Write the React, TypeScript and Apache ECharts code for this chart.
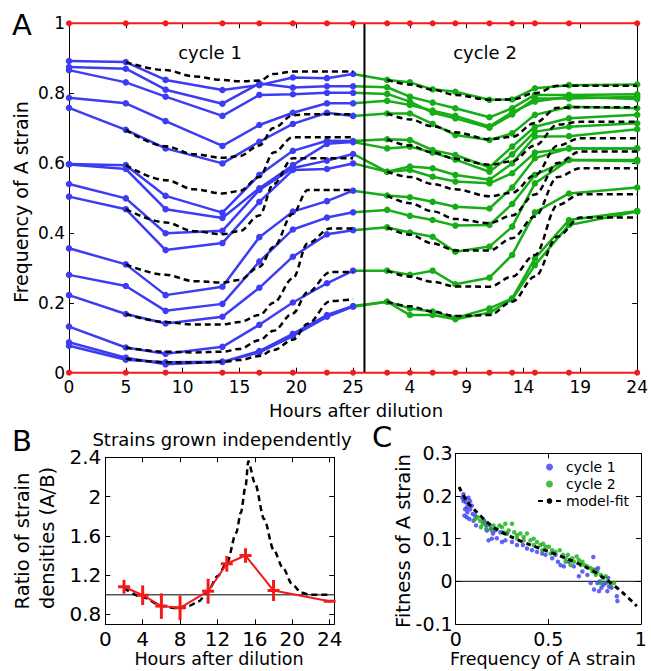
import React, { useEffect, useRef } from "react";
import * as echarts from "echarts";

const FONT = "DejaVu Sans";
const BLUE = "#3c3cf2";
const GREEN = "#16ad16";
const RED = "#f21a1a";
const BLACK = "#000000";

// ---------- Panel A ----------
const aTickLabels = ["0", "5", "10", "15", "20", "25", "4", "9", "14", "19", "24"];
const cycleBoundary = 26;
const cycle1Hours = [0, 5, 8.5, 13.5, 16.75, 19.7, 22.7, 25];
const cycle2Hours = [25, 28, 30, 32, 34, 37, 39, 41, 44, 50];
const controlHours = [0, 5, 8.5, 13.5, 16.75, 19.7, 22.7, 25, 28, 30, 32, 34, 37, 39, 41, 44, 50];
const pureAFreq = [1, 1, 1, 1, 1, 1, 1, 1, 1, 1, 1, 1, 1, 1, 1, 1, 1];
const pureBFreq = [0, 0, 0, 0, 0, 0, 0, 0, 0, 0, 0, 0, 0, 0, 0, 0, 0];

const cycle1Freq = [
  [0.892, 0.889, 0.838, 0.809, 0.823, 0.845, 0.843, 0.855],
  [0.875, 0.870, 0.810, 0.770, 0.828, 0.816, 0.820, 0.820],
  [0.866, 0.831, 0.790, 0.735, 0.795, 0.797, 0.801, 0.801],
  [0.787, 0.771, 0.720, 0.649, 0.709, 0.744, 0.771, 0.771],
  [0.758, 0.695, 0.642, 0.599, 0.661, 0.712, 0.744, 0.735],
  [0.597, 0.594, 0.506, 0.458, 0.566, 0.635, 0.664, 0.663],
  [0.596, 0.583, 0.468, 0.443, 0.528, 0.594, 0.655, 0.660],
  [0.540, 0.499, 0.399, 0.406, 0.523, 0.586, 0.607, 0.626],
  [0.504, 0.468, 0.351, 0.371, 0.489, 0.580, 0.583, 0.599],
  [0.356, 0.310, 0.222, 0.246, 0.388, 0.461, 0.491, 0.521],
  [0.280, 0.248, 0.177, 0.197, 0.318, 0.410, 0.444, 0.459],
  [0.222, 0.168, 0.141, 0.160, 0.243, 0.332, 0.396, 0.408],
  [0.132, 0.072, 0.054, 0.074, 0.137, 0.201, 0.256, 0.292],
  [0.087, 0.043, 0.024, 0.031, 0.062, 0.111, 0.165, 0.191],
  [0.077, 0.037, 0.030, 0.031, 0.058, 0.105, 0.160, 0.189],
];

const cycle2Freq = [
  [0.855, 0.838, 0.831, 0.811, 0.804, 0.781, 0.782, 0.814, 0.823, 0.825],
  [0.820, 0.817, 0.790, 0.773, 0.757, 0.731, 0.757, 0.795, 0.795, 0.797],
  [0.801, 0.798, 0.776, 0.744, 0.728, 0.701, 0.739, 0.785, 0.785, 0.790],
  [0.771, 0.778, 0.766, 0.750, 0.735, 0.705, 0.745, 0.776, 0.790, 0.783],
  [0.735, 0.742, 0.742, 0.712, 0.680, 0.666, 0.685, 0.738, 0.761, 0.757],
  [0.663, 0.668, 0.666, 0.637, 0.623, 0.588, 0.647, 0.704, 0.728, 0.738],
  [0.660, 0.642, 0.647, 0.630, 0.610, 0.575, 0.625, 0.690, 0.704, 0.714],
  [0.626, 0.575, 0.590, 0.585, 0.566, 0.552, 0.599, 0.676, 0.677, 0.697],
  [0.599, 0.575, 0.580, 0.561, 0.547, 0.542, 0.571, 0.630, 0.642, 0.642],
  [0.521, 0.507, 0.502, 0.489, 0.475, 0.470, 0.530, 0.614, 0.642, 0.642],
  [0.459, 0.466, 0.449, 0.437, 0.421, 0.423, 0.483, 0.566, 0.609, 0.609],
  [0.408, 0.416, 0.401, 0.389, 0.346, 0.361, 0.418, 0.542, 0.609, 0.605],
  [0.292, 0.292, 0.280, 0.292, 0.253, 0.272, 0.337, 0.459, 0.513, 0.530],
  [0.191, 0.203, 0.184, 0.175, 0.157, 0.184, 0.213, 0.327, 0.437, 0.463],
  [0.189, 0.203, 0.165, 0.165, 0.153, 0.172, 0.210, 0.308, 0.423, 0.461],
];

const model1Hours = [5, 8.5, 11, 13.5, 15, 16.75, 18, 19.7, 21, 23, 25];
const model1Freq = [
  [0.889, 0.866, 0.848, 0.838, 0.834, 0.836, 0.855, 0.862, 0.862, 0.862, 0.862],
  [0.695, 0.648, 0.625, 0.615, 0.620, 0.650, 0.700, 0.737, 0.740, 0.740, 0.740],
  [0.594, 0.551, 0.525, 0.513, 0.520, 0.560, 0.630, 0.674, 0.674, 0.674, 0.674],
  [0.468, 0.430, 0.405, 0.396, 0.405, 0.450, 0.540, 0.614, 0.614, 0.614, 0.614],
  [0.310, 0.280, 0.262, 0.258, 0.265, 0.303, 0.360, 0.455, 0.523, 0.523, 0.523],
  [0.168, 0.145, 0.138, 0.138, 0.145, 0.165, 0.200, 0.270, 0.370, 0.413, 0.413],
  [0.072, 0.060, 0.058, 0.060, 0.068, 0.093, 0.120, 0.170, 0.230, 0.288, 0.288],
  [0.040, 0.030, 0.029, 0.031, 0.036, 0.048, 0.065, 0.094, 0.140, 0.205, 0.210],
];

const model2Hours = [28, 30, 32, 34, 37, 39, 41, 43, 45, 50];
const model2Freq = [
  [0.838, 0.825, 0.810, 0.795, 0.781, 0.782, 0.800, 0.821, 0.821, 0.821],
  [0.742, 0.725, 0.705, 0.688, 0.668, 0.675, 0.715, 0.758, 0.760, 0.760],
  [0.668, 0.650, 0.630, 0.612, 0.595, 0.605, 0.650, 0.710, 0.718, 0.718],
  [0.575, 0.560, 0.540, 0.525, 0.505, 0.515, 0.565, 0.650, 0.671, 0.671],
  [0.507, 0.485, 0.462, 0.440, 0.428, 0.450, 0.510, 0.600, 0.633, 0.633],
  [0.416, 0.395, 0.370, 0.350, 0.350, 0.385, 0.447, 0.560, 0.585, 0.585],
  [0.292, 0.275, 0.260, 0.247, 0.246, 0.275, 0.337, 0.480, 0.511, 0.511],
  [0.203, 0.190, 0.175, 0.162, 0.165, 0.203, 0.275, 0.390, 0.444, 0.444],
];

// ---------- Panel B ----------
const bHours = [2, 4, 6, 8, 11, 13, 15, 18, 24];
const bRatio = [1.082, 0.996, 0.885, 0.868, 1.037, 1.316, 1.4, 1.044, 0.935];
const bError = [0.07, 0.1, 0.13, 0.125, 0.127, 0.08, 0.074, 0.107, 0.012];
const bModelHours = [2, 4, 6, 7.5, 9, 10, 11, 12, 13, 14, 14.5, 15, 15.3, 16, 17, 18, 19, 20, 21, 22, 24];
const bModelRatio = [1.07, 0.975, 0.89, 0.865, 0.89, 0.935, 1.04, 1.19, 1.32, 1.63, 1.835, 2.1, 2.36, 2.14, 1.77, 1.46, 1.275, 1.105, 1.02, 1.0, 1.0];
const bXTicks = [0, 4, 8, 12, 16, 20, 24];
const bYTicks = [0.8, 1.2, 1.6, 2, 2.4];
const bBaseline = 1;
const bXRange = [0, 24.5];
const bYRange = [0.7, 2.4];

// ---------- Panel C ----------
const cycle1Fitness = [
  [0.036, 0.196], [0.042, 0.188], [0.045, 0.192], [0.056, 0.185], [0.060, 0.173], [0.069, 0.181], [0.051, 0.169],
  [0.078, 0.169], [0.087, 0.177], [0.047, 0.154], [0.060, 0.150], [0.074, 0.146], [0.092, 0.158], [0.105, 0.154],
  [0.110, 0.131], [0.096, 0.142], [0.063, 0.162], [0.042, 0.204], [0.056, 0.194], [0.078, 0.188], [0.069, 0.196],
  [0.154, 0.142], [0.165, 0.131], [0.177, 0.096], [0.190, 0.123], [0.201, 0.112], [0.213, 0.119], [0.222, 0.101],
  [0.241, 0.115], [0.250, 0.092], [0.268, 0.096], [0.277, 0.112], [0.195, 0.100], [0.168, 0.119],
  [0.304, 0.092], [0.331, 0.085], [0.363, 0.085], [0.385, 0.077], [0.412, 0.073], [0.439, 0.069], [0.467, 0.065],
  [0.485, 0.062], [0.521, 0.054], [0.539, 0.062], [0.552, 0.046], [0.566, 0.038], [0.584, 0.035], [0.611, 0.046],
  [0.638, 0.035], [0.665, 0.012], [0.684, 0.023], [0.711, 0.015], [0.729, -0.004], [0.743, 0.057], [0.756, 0.027],
  [0.769, 0.031], [0.779, 0.0], [0.787, -0.015], [0.797, -0.008], [0.819, -0.023], [0.828, -0.012], [0.841, -0.015],
  [0.870, -0.035], [0.873, -0.046], [0.810, -0.004], [0.747, -0.019], [0.765, -0.004], [0.774, -0.023], [0.823, 0.008],
];
const cycle2Fitness = [
  [0.105, 0.146], [0.118, 0.150], [0.132, 0.142], [0.146, 0.135], [0.159, 0.138], [0.183, 0.131], [0.204, 0.131],
  [0.222, 0.123], [0.237, 0.131], [0.250, 0.127], [0.268, 0.135], [0.277, 0.112], [0.304, 0.135], [0.316, 0.115],
  [0.331, 0.108], [0.349, 0.112], [0.367, 0.104], [0.385, 0.112], [0.403, 0.096], [0.421, 0.100], [0.439, 0.092],
  [0.458, 0.085], [0.472, 0.088], [0.485, 0.081], [0.503, 0.081], [0.521, 0.073], [0.539, 0.069], [0.562, 0.073],
  [0.580, 0.062], [0.593, 0.054], [0.606, 0.062], [0.629, 0.054], [0.638, 0.046], [0.653, 0.058], [0.665, 0.050],
  [0.684, 0.046], [0.696, 0.038], [0.711, 0.035], [0.729, 0.031], [0.747, 0.027], [0.765, 0.023], [0.783, 0.015],
  [0.797, 0.008], [0.810, 0.012], [0.823, 0.0], [0.837, -0.008], [0.855, -0.004], [0.783, -0.004], [0.756, 0.015],
  [0.738, 0.023], [0.675, 0.038], [0.620, 0.038], [0.593, 0.046], [0.512, 0.065], [0.467, 0.073], [0.421, 0.085],
  [0.367, 0.096], [0.331, 0.100], [0.286, 0.119], [0.259, 0.115], [0.195, 0.119], [0.165, 0.123], [0.136, 0.127],
];
const cModelFreq = [0.018, 0.06, 0.1, 0.2, 0.3, 0.4, 0.5, 0.6, 0.7, 0.8, 0.9, 0.978];
const cModelFitness = [0.221, 0.188, 0.168, 0.128, 0.104, 0.086, 0.07, 0.053, 0.034, 0.008, -0.026, -0.058];
const cBaseline = 0;
const cXRange = [0, 1];

const zip = (xs: number[], ys: number[]) => xs.map((x, i) => [x, ys[i]]);

function axis(grid: number, position: string, min: number, max: number, opts: any = {}) {
  const { interval, labels, fontSize = 17, margin = 5, formatter, ticks } = opts;
  const a: any = {
    type: "value",
    gridIndex: grid,
    position,
    min,
    max,
    splitLine: { show: false },
    axisLine: { show: true, onZero: false, lineStyle: { color: BLACK, width: 1 } },
    axisTick: { show: true, inside: true, length: 5, lineStyle: { color: BLACK, width: 1 } },
    axisLabel: {
      show: !!labels,
      color: BLACK,
      fontFamily: FONT,
      fontSize,
      margin,
      formatter,
    },
  };
  if (interval !== undefined) a.interval = interval;
  if (ticks) {
    a.axisTick.customValues = ticks;
    a.axisLabel.customValues = ticks;
  }
  return a;
}

const dashed = { color: BLACK, width: 2.5, type: [6, 4] as any };

export default function App() {
  const ref = useRef<HTMLDivElement>(null);
  useEffect(() => {
    if (!ref.current) return;
    const chart = echarts.init(ref.current, undefined, { renderer: "svg" });
    const series: any[] = [];

    // Panel A: model dashed
    model1Freq.forEach((f, k) =>
      series.push({
        type: "line", name: "modelA1_" + k, xAxisIndex: 0, yAxisIndex: 0,
        data: zip(model1Hours, f), symbol: "none", smooth: 0.35, smoothMonotone: "x",
        lineStyle: dashed, z: 4,
      })
    );
    model2Freq.forEach((f, k) =>
      series.push({
        type: "line", name: "modelA2_" + k, xAxisIndex: 0, yAxisIndex: 0,
        data: zip(model2Hours, f), symbol: "none", smooth: 0.35, smoothMonotone: "x",
        lineStyle: dashed, z: 4,
      })
    );
    cycle2Freq.forEach((f, k) =>
      series.push({
        type: "line", name: "green_" + k, xAxisIndex: 0, yAxisIndex: 0,
        data: cycle2Hours.map((t, i) => (i === 0 ? { value: [t, f[i]], symbol: "none" } : [t, f[i]])),
        symbol: "circle", symbolSize: 6.5,
        itemStyle: { color: GREEN }, lineStyle: { color: GREEN, width: 2.5 }, z: 2,
      })
    );
    cycle1Freq.forEach((f, k) =>
      series.push({
        type: "line", name: "blue_" + k, xAxisIndex: 0, yAxisIndex: 0,
        data: zip(cycle1Hours, f), symbol: "circle", symbolSize: 6.5,
        itemStyle: { color: BLUE }, lineStyle: { color: BLUE, width: 2.5 }, z: 3,
      })
    );
    series.push({
      type: "line", name: "boundary", xAxisIndex: 0, yAxisIndex: 0,
      data: [[cycleBoundary, 0], [cycleBoundary, 1]], symbol: "none",
      lineStyle: { color: BLACK, width: 2 }, z: 5,
    });
    [pureAFreq, pureBFreq].forEach((f, k) =>
      series.push({
        type: "line", name: "pure_" + k, xAxisIndex: 0, yAxisIndex: 0,
        data: zip(controlHours, f), symbol: "circle", symbolSize: 6, clip: false,
        itemStyle: { color: RED }, lineStyle: { color: RED, width: 2 }, z: 6,
      })
    );

    // Panel B
    series.push({
      type: "line", name: "bBase", xAxisIndex: 2, yAxisIndex: 2,
      data: [[bXRange[0], bBaseline], [bXRange[1], bBaseline]], symbol: "none",
      lineStyle: { color: BLACK, width: 1 }, z: 1,
    });
    series.push({
      type: "line", name: "bModel", xAxisIndex: 2, yAxisIndex: 2,
      data: zip(bModelHours, bModelRatio), symbol: "none", smooth: 0.3, smoothMonotone: "x",
      lineStyle: dashed, z: 2,
    });
    series.push({
      type: "line", name: "bRatio", xAxisIndex: 2, yAxisIndex: 2,
      data: zip(bHours, bRatio), symbol: "none",
      lineStyle: { color: RED, width: 2 }, z: 3,
    });
    series.push({
      type: "custom", name: "bErr", xAxisIndex: 2, yAxisIndex: 2, z: 4,
      data: bHours.map((t, i) => [t, bRatio[i], bError[i]]),
      renderItem: (params: any, api: any) => {
        const x = api.value(0), y = api.value(1), e = api.value(2);
        const p = api.coord([x, y]);
        const lo = api.coord([x, y - e]);
        const hi = api.coord([x, y + e]);
        return {
          type: "group",
          children: [
            { type: "line", shape: { x1: p[0], y1: lo[1], x2: p[0], y2: hi[1] }, style: { stroke: RED, lineWidth: 3 } },
            { type: "line", shape: { x1: p[0] - 6, y1: p[1], x2: p[0] + 6, y2: p[1] }, style: { stroke: RED, lineWidth: 3 } },
          ],
        };
      },
    });

    // Panel C
    series.push({
      type: "line", name: "cBase", xAxisIndex: 4, yAxisIndex: 4,
      data: [[cXRange[0], cBaseline], [cXRange[1], cBaseline]], symbol: "none",
      lineStyle: { color: BLACK, width: 1 }, z: 1,
    });
    series.push({
      type: "scatter", name: "cycle 1", xAxisIndex: 4, yAxisIndex: 4,
      data: cycle1Fitness, symbolSize: 4.5, itemStyle: { color: BLUE }, z: 2,
    });
    series.push({
      type: "scatter", name: "cycle 2", xAxisIndex: 4, yAxisIndex: 4,
      data: cycle2Fitness, symbolSize: 4.5, itemStyle: { color: GREEN }, z: 3,
    });
    series.push({
      type: "line", name: "model-fit", xAxisIndex: 4, yAxisIndex: 4,
      data: zip(cModelFreq, cModelFitness), symbol: "none", smooth: 0.3,
      itemStyle: { color: BLACK }, lineStyle: { color: BLACK, width: 3, type: [5, 4] as any }, z: 4,
    });

    const txt = (text: string, x: number, y: number, fontSize: number, rotation = 0, align = "center") => ({
      type: "text",
      x, y, rotation,
      style: { text, fill: BLACK, font: `${fontSize}px "${FONT}"`, textAlign: align, textVerticalAlign: "middle" },
      z: 100,
    });

    const option: any = {
      animation: false,
      backgroundColor: "#ffffff",
      textStyle: { fontFamily: FONT },
      grid: [
        { left: 69, top: 23.3, width: 571.5, height: 349.4 },
        { left: 105.3, top: 457.3, width: 229, height: 167 },
        { left: 455.7, top: 453.3, width: 185.2, height: 170.7 },
      ],
      xAxis: [
        axis(0, "bottom", 0, 50, { interval: 5, labels: true, fontSize: 17, margin: 6, formatter: (v: number) => aTickLabels[Math.round(v / 5)] }),
        axis(0, "top", 0, 50, { interval: 5 }),
        axis(1, "bottom", bXRange[0], bXRange[1], { ticks: bXTicks, labels: true, fontSize: 20, margin: 5 }),
        axis(1, "top", bXRange[0], bXRange[1], { ticks: bXTicks }),
        axis(2, "bottom", cXRange[0], cXRange[1], { interval: 0.5, labels: true, fontSize: 19, margin: 5 }),
        axis(2, "top", cXRange[0], cXRange[1], { interval: 0.5 }),
      ],
      yAxis: [
        axis(0, "left", 0, 1, { interval: 0.2, labels: true, fontSize: 17, margin: 4 }),
        axis(0, "right", 0, 1, { interval: 0.2 }),
        axis(1, "left", bYRange[0], bYRange[1], { ticks: bYTicks, labels: true, fontSize: 20, margin: 4 }),
        axis(1, "right", bYRange[0], bYRange[1], { ticks: bYTicks }),
        axis(2, "left", -0.1, 0.3, { interval: 0.1, labels: true, fontSize: 19, margin: 3, formatter: (v: number) => String(+v.toFixed(1)) }),
        axis(2, "right", -0.1, 0.3, { interval: 0.1 }),
      ],
      legend: {
        data: ["cycle 1", "cycle 2", "model-fit"],
        orient: "vertical",
        left: 537,
        top: 459,
        itemWidth: 23,
        itemHeight: 7,
        itemGap: 1,
        padding: 0,
        textStyle: { fontFamily: FONT, fontSize: 14, color: BLACK, lineHeight: 16 },
      },
      graphic: [
        txt("A", 22, 25, 29),
        txt("B", 22, 441, 29),
        txt("C", 382, 437, 29),
        txt("cycle 1", 210, 52, 18),
        txt("cycle 2", 485, 52, 18),
        txt("Hours after dilution", 356, 410, 18),
        txt("Frequency of A strain", 21, 202, 19, Math.PI / 2),
        txt("Strains grown independently", 222, 439, 18),
        txt("Hours after dilution", 219, 659, 17.5),
        txt("Ratio of strain", 22, 541, 19.5, Math.PI / 2),
        txt("densities (A/B)", 47, 538, 19.5, Math.PI / 2),
        txt("Frequency of A strain", 543, 659, 17.5),
        txt("Fitness of A strain", 403, 541, 19.5, Math.PI / 2),
      ],
      series,
    };
    chart.setOption(option);
    return () => chart.dispose();
  }, []);
  return <div ref={ref} style={{ position: "absolute", left: 0, top: 0, width: 651, height: 671, background: "#fff" }} />;
}
